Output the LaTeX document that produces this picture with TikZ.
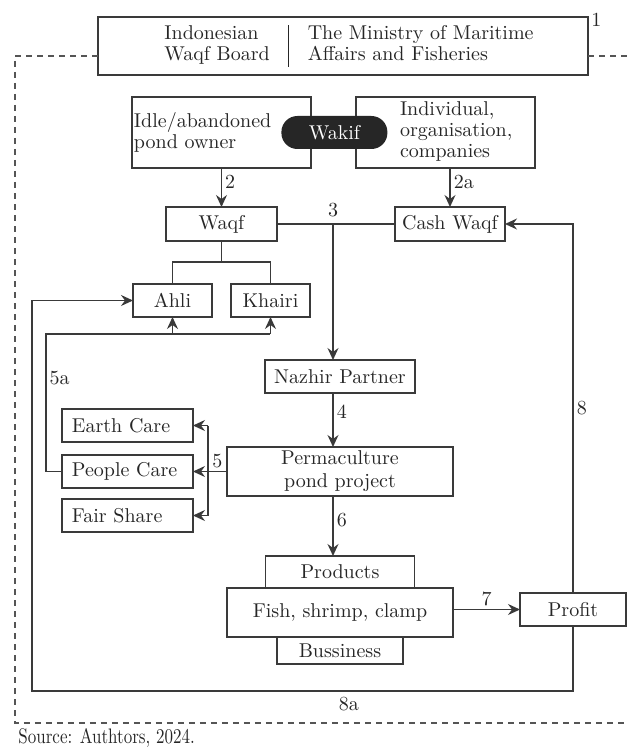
\documentclass[tikz,border=0pt]{standalone}
\usepackage{graphicx}
\usetikzlibrary{positioning,arrows.meta}

\definecolor{linegray}{HTML}{3A3A3A}
\definecolor{textgray}{HTML}{262626}
\definecolor{dashgray}{HTML}{555555}

\newcommand{\boxfont}{\fontsize{10}{10.5}\selectfont}

\tikzset{
  box/.style={draw=linegray, line width=0.75pt, fill=white, inner sep=1pt,
    outer sep=0pt, text=textgray, font=\boxfont},
  sidebox/.style={box, minimum width=65.5pt, minimum height=16.5pt,
    text width=55.5pt, inner xsep=5pt, align=left},
  pill/.style={fill=textgray, rounded corners=8pt, text=white, font=\boxfont,
    minimum width=53pt, minimum height=16.5pt, inner sep=1pt},
  lbl/.style={text=textgray, font=\boxfont, inner sep=1.5pt},
  conn/.style={draw=linegray, line width=0.75pt},
  arr/.style={conn, -{Stealth[length=6pt,width=5.5pt,inset=2pt]}},
  frame/.style={draw=dashgray, line width=0.75pt, dash pattern=on 3pt off 2.5pt},
}

\begin{document}
\begin{tikzpicture}
  \useasboundingbox (-171.5pt,23pt) rectangle (142pt,-351.5pt);

  % Define nodes
  \node[box, minimum width=245pt, minimum height=29pt] (board) at (0,0)
    {\setlength{\tabcolsep}{9.5pt}\hspace*{6pt}\begin{tabular}{l|l}
      Indonesian & The Ministry of Maritime\\
      Waqf Board & Affairs and Fisheries
    \end{tabular}};
  \node[box, minimum width=89.5pt, minimum height=35.5pt, text width=87.5pt,
    align=left, below=11pt of board, xshift=-60.75pt] (idle) {Idle/abandoned\\pond owner};
  \node[box, minimum width=89.5pt, minimum height=35.5pt, text width=87.5pt,
    align=left, right=22.5pt of idle] (indiv)
    {\begin{tabular}{@{\hspace{21pt}}l@{}}Individual,\\organisation,\\companies\end{tabular}};
  \node[pill, right=-15pt of idle] (wakif) {Wakif};
  \node[box, minimum width=55.5pt, minimum height=17pt, below=19.5pt of idle] (waqf) {Waqf};
  \node[box, minimum width=55pt, minimum height=17pt, below=19.5pt of indiv,
    xshift=2.25pt] (cash) {Cash Waqf};
  \node[box, minimum width=39.5pt, minimum height=16.5pt, below=21.5pt of waqf,
    xshift=-24.5pt] (ahli) {Ahli};
  \node[box, minimum width=39.5pt, minimum height=16.5pt, right=9.5pt of ahli] (khairi) {Khairi};
  \node[box, minimum width=75pt, minimum height=16.5pt, below=59.5pt of cash,
    xshift=-55pt] (nazhir) {Nazhir Partner};
  \node[box, minimum width=113pt, minimum height=24.5pt, align=center,
    font=\fontsize{10}{11.5}\selectfont, below=27pt of nazhir] (perma) {Permaculture\\pond project};
  \node[sidebox, left=17pt of perma] (people) {People Care};
  \node[sidebox, above=6.5pt of people] (earth) {Earth Care};
  \node[sidebox, below=5.5pt of people] (fair) {Fair Share};
  \node[box, minimum width=74.5pt, minimum height=16pt, below=30pt of perma] (products) {Products};
  \node[box, minimum width=113pt, minimum height=24.5pt, below=0pt of products] (fish) {Fish, shrimp, clamp};
  \node[box, minimum width=63pt, minimum height=13.5pt, below=0pt of fish] (buss) {Bussiness};
  \node[box, minimum width=53pt, minimum height=16.5pt, right=33.5pt of fish,
    yshift=1.5pt] (profit) {Profit};
  \node[lbl, anchor=west] (n1) at ([yshift=-1.5pt]board.north east) {1};

  % Outer dashed frame
  \coordinate (ftl) at (-164pt,-5pt);
  \coordinate (fbl) at (-164pt,-338.5pt);
  \coordinate (fbr) at (142pt,-338.5pt);
  \coordinate (ftr) at (142pt,-5pt);
  \draw[frame] ([yshift=-5pt]board.west) -- (ftl) -- (fbl) -- (fbr);
  \draw[frame] ([yshift=-5pt]board.east) -- (ftr);

  % Connect the nodes
  \draw[arr] (idle.south) -- node[lbl, right, pos=0.35] (l2) {2} (waqf.north);
  \draw[arr] (cash.north |- indiv.south) -- node[lbl, right, pos=0.35] (l2a) {2a} (cash.north);
  \draw[conn] (waqf.east) -- (cash.west);
  \coordinate (j3) at ([xshift=28pt]waqf.east);
  \node[lbl, above=2pt of j3] (l3) {3};
  \draw[arr] (j3) -- (j3 |- nazhir.north);
  \draw[conn] (waqf.south) -- ++(0,-10.5pt) -| (ahli.north);
  \draw[conn] (waqf.south) -- ++(0,-10.5pt) -| (khairi.north);
  \draw[arr] (j3 |- nazhir.south) -- node[lbl, right, pos=0.35] (l4) {4} (j3 |- perma.north);

  \coordinate (b5) at ([xshift=7.5pt]people.east);
  \draw[conn] (perma.west) -- node[lbl, above] (l5) {5} (perma.west -| b5);
  \draw[conn] (b5 |- earth.east) -- (b5 |- fair.east);
  \foreach \n in {earth,people,fair}
    \draw[arr] (b5 |- \n.east) -- (\n.east);

  \draw[conn] (people.west) -- ++(-8pt,0) |- node[lbl, right, pos=0.34] (l5a) {5a}
    ([yshift=-8.5pt]khairi.south) coordinate (r5a);
  \draw[arr] (r5a) -- (khairi.south);
  \draw[arr] (ahli.south |- r5a) -- (ahli.south);

  \draw[arr] (j3 |- perma.south) -- node[lbl, right, pos=0.4] (l6) {6} (j3 |- products.north);
  \draw[arr] (fish.east |- profit.west) -- node[lbl, above] (l7) {7} (profit.west);
  \draw[arr] (profit.north) |- node[lbl, right, pos=0.25] (l8) {8} (cash.east);
  \draw[arr] (profit.south) -- ++(0,-32.5pt) coordinate (p8a)
    -| ([xshift=-50.5pt]ahli.west) -- (ahli.west);
  \node[lbl, below=1.5pt] (l8a) at ([xshift=4.5pt]p8a -| fish) {8a};

  \node[lbl, anchor=west, inner sep=0pt] (src) at (-162.5pt,-346pt)
    {\scalebox{0.85}[1.05]{Source: Authtors, 2024.}};
\end{tikzpicture}
\end{document}
